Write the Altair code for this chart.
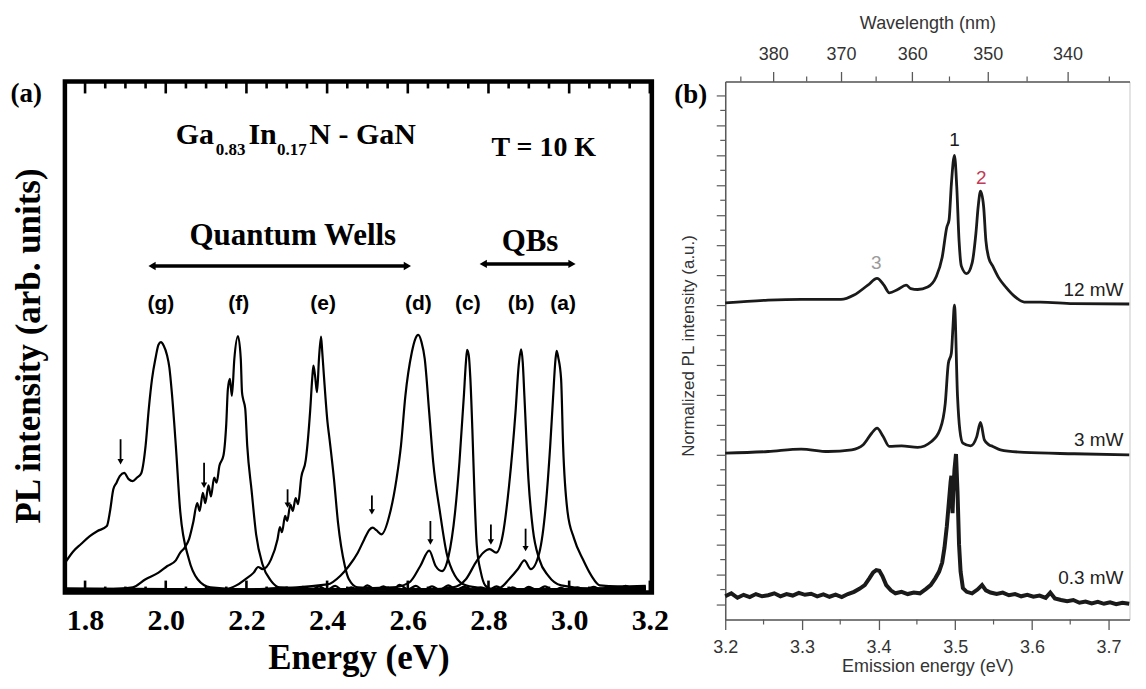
import altair as alt
import pandas as pd

SERIF = "Liberation Serif"
SANS = "Liberation Sans"
GRAY = "#5a5a5a"

# ================= Panel (a) data =================
g_E = [1.752, 1.770, 1.790, 1.811, 1.830, 1.854, 1.862, 1.870, 1.878, 1.886, 1.897, 1.908, 1.918, 1.929, 1.939, 1.950, 1.958, 1.966, 1.975, 1.982, 1.988, 1.995, 2.003, 2.009, 2.015, 2.025, 2.036, 2.057, 2.079, 2.111, 2.20, 3.19]
g_I = [6.0, 8.0, 9.5, 11.0, 12.0, 13.0, 16.0, 20.2, 21.5, 22.8, 23.4, 22.2, 21.8, 22.5, 23.3, 28.7, 36.0, 41.8, 46.0, 48.5, 49.0, 48.3, 46.5, 44.0, 39.2, 28.7, 15.8, 6.6, 2.6, 1.0, 0.6, 0.5]

f_E = [1.752, 1.850, 1.918, 1.950, 1.982, 2.004, 2.025, 2.036, 2.047, 2.058, 2.068, 2.078, 2.084, 2.092, 2.098, 2.106, 2.112, 2.120, 2.126, 2.133, 2.143, 2.150, 2.154, 2.159, 2.164, 2.170, 2.179, 2.186, 2.189, 2.192, 2.197, 2.202, 2.213, 2.224, 2.240, 2.261, 2.283, 2.40, 3.19]
f_I = [0.5, 0.6, 1.0, 2.6, 3.9, 5.2, 6.3, 7.8, 8.8, 10.5, 13.7, 17.5, 16.0, 19.5, 17.5, 21.0, 18.8, 22.5, 21.5, 24.8, 26.8, 33.0, 39.8, 41.8, 38.5, 45.7, 50.2, 45.7, 39.2, 37.8, 36.0, 28.7, 19.8, 11.4, 5.5, 2.3, 1.0, 0.7, 0.6]

e_E = [1.752, 2.000, 2.150, 2.175, 2.197, 2.218, 2.229, 2.240, 2.261, 2.277, 2.283, 2.288, 2.296, 2.301, 2.309, 2.315, 2.322, 2.328, 2.336, 2.347, 2.358, 2.363, 2.366, 2.370, 2.375, 2.380, 2.385, 2.388, 2.392, 2.401, 2.406, 2.417, 2.427, 2.444, 2.454, 2.476, 2.60, 3.19]
e_I = [0.6, 0.5, 0.7, 1.4, 2.6, 3.9, 5.0, 4.6, 6.5, 10.4, 12.8, 11.8, 15.0, 14.0, 17.2, 16.0, 18.5, 17.3, 22.6, 25.9, 35.6, 41.8, 44.4, 42.5, 39.2, 46.0, 50.1, 47.0, 42.5, 33.3, 30.0, 22.2, 13.7, 5.2, 2.6, 1.0, 0.6, 0.7]

d_E = [1.752, 2.200, 2.401, 2.433, 2.454, 2.476, 2.492, 2.505, 2.513, 2.522, 2.535, 2.556, 2.572, 2.583, 2.594, 2.610, 2.618, 2.626, 2.634, 2.642, 2.653, 2.663, 2.680, 2.696, 2.717, 2.744,
       2.78, 2.80, 2.82, 2.84, 2.86, 2.88, 2.90, 2.92, 2.94, 2.96, 2.98, 3.00, 3.02, 3.04, 3.06, 3.08, 3.10, 3.12, 3.14, 3.16, 3.19]
d_I = [0.8, 0.6, 1.6, 3.3, 5.2, 7.8, 10.4, 12.3, 12.7, 12.2, 11.4, 15.6, 22.2, 28.7, 38.5, 47.0, 49.5, 50.4, 49.0, 45.7, 35.3, 25.5, 15.6, 7.8, 3.3, 1.4,
       0.9, 0.5, 1.2, 0.4, 1.0, 0.3, 1.1, 0.5, 1.2, 0.4, 0.9, 0.3, 1.0, 0.5, 1.1, 0.6, 1.2, 0.5, 1.3, 0.7, 1.2]

c_E = [1.752, 2.300, 2.562, 2.604, 2.631, 2.653, 2.669, 2.685, 2.701, 2.717, 2.728, 2.739, 2.744, 2.747, 2.751, 2.755, 2.760, 2.765, 2.771, 2.781, 2.792, 2.808, 2.90, 3.19]
c_I = [0.6, 0.5, 1.0, 2.0, 5.2, 8.2, 5.2, 4.2, 7.1, 15.6, 25.5, 38.5, 45.0, 47.5, 46.5, 42.0, 32.0, 20.0, 9.2, 4.0, 1.4, 0.7, 0.6, 0.8]

b_E = [1.752, 2.300, 2.650, 2.712, 2.744, 2.771, 2.787, 2.803, 2.819, 2.835, 2.851, 2.867, 2.875, 2.881, 2.885, 2.889, 2.899, 2.910, 2.926, 2.948, 2.980, 3.05, 3.19]
b_I = [0.7, 0.5, 0.6, 1.0, 2.6, 6.2, 7.8, 8.5, 7.8, 11.1, 20.9, 35.3, 44.5, 47.6, 45.0, 38.5, 22.2, 12.4, 6.5, 3.3, 1.4, 0.8, 0.9]

a_E = [1.752, 2.200, 2.30, 2.32, 2.34, 2.36, 2.38, 2.40, 2.42, 2.44, 2.46, 2.48, 2.50, 2.52, 2.54, 2.56, 2.58, 2.60, 2.62, 2.64, 2.66, 2.68, 2.70, 2.72, 2.74, 2.76, 2.78,
       2.800, 2.830, 2.851, 2.873, 2.889, 2.905, 2.926, 2.942, 2.953, 2.960, 2.966, 2.969, 2.973, 2.980, 2.985, 2.996, 3.012, 3.034, 3.055, 3.076, 3.12, 3.19]
a_I = [0.5, 0.6, 0.9, 0.3, 1.1, 0.4, 1.2, 0.5, 1.3, 0.4, 1.0, 0.3, 1.4, 0.5, 1.2, 0.3, 1.5, 0.6, 1.3, 0.4, 1.2, 0.5, 1.4, 0.6, 1.1, 0.4, 1.0,
       0.7, 1.0, 2.6, 4.6, 6.3, 4.6, 7.8, 17.0, 28.7, 38.0, 45.5, 47.3, 46.0, 41.8, 28.7, 15.8, 10.6, 6.5, 3.3, 1.4, 1.2, 1.3]

curve_names = ["(g)", "(f)", "(e)", "(d)", "(c)", "(b)", "(a)"]
curve_E = [g_E, f_E, e_E, d_E, c_E, b_E, a_E]
curve_I = [g_I, f_I, e_I, d_I, c_I, b_I, a_I]

lab_E = [1.988, 2.181, 2.390, 2.626, 2.749, 2.881, 2.985]
lab_I = [56.5] * 7

arr_E = [1.888, 2.095, 2.302, 2.511, 2.656, 2.806, 2.892]
arr_top = [30.0, 25.4, 20.2, 19.0, 14.0, 13.3, 12.5]
arr_tip = [24.8, 20.2, 16.3, 15.0, 9.1, 9.1, 7.8]

rng_E1 = [1.966, 2.787]
rng_E2 = [2.599, 3.007]
rng_I = [63.9, 64.3]

ann_text = ["Quantum Wells", "QBs", "T = 10 K"]
ann_E = [2.315, 2.903, 2.937]
ann_I = [69.8, 68.6, 87.0]
ann_fs = [31, 31, 28]

comp_text = ["Ga", "0.83", "In", "0.17", "N - GaN"]
comp_E = [2.025, 2.124, 2.205, 2.276, 2.356]
comp_I = [87.8, 85.6, 87.8, 85.6, 87.8]
comp_fs = [30, 17, 30, 17, 30]

a_major = [1.8, 2.0, 2.2, 2.4, 2.6, 2.8, 3.0, 3.2]
a_minor = [1.85, 1.90, 1.95, 2.05, 2.10, 2.15, 2.25, 2.30, 2.35, 2.45, 2.50, 2.55,
           2.65, 2.70, 2.75, 2.85, 2.90, 2.95, 3.05, 3.10, 3.15]

# ================= Panel (b) data =================
p12_E = [3.200, 3.256, 3.299, 3.351, 3.368, 3.386, 3.398, 3.407, 3.414, 3.425, 3.436, 3.442, 3.451, 3.464, 3.475, 3.483, 3.489, 3.492, 3.495, 3.499, 3.502, 3.505, 3.508, 3.515, 3.522, 3.527, 3.530, 3.533, 3.537, 3.540, 3.544, 3.549, 3.557, 3.566, 3.577, 3.590, 3.611, 3.654, 3.727]
p12_Y = [21.15, 21.33, 21.38, 21.38, 21.67, 22.33, 22.78, 22.33, 21.82, 22.04, 22.33, 22.10, 22.04, 22.20, 22.87, 24.20, 26.20, 26.70, 29.10, 31.00, 28.90, 25.30, 23.60, 23.10, 23.80, 25.80, 27.60, 28.60, 27.60, 25.30, 24.10, 23.60, 22.80, 22.20, 21.60, 21.20, 21.20, 21.10, 21.07]

p3_E = [3.200, 3.256, 3.299, 3.334, 3.365, 3.380, 3.391, 3.398, 3.406, 3.414, 3.430, 3.451, 3.469, 3.480, 3.487, 3.491, 3.495, 3.497, 3.499, 3.503, 3.506, 3.510, 3.520, 3.528, 3.533, 3.538, 3.544, 3.549, 3.559, 3.590, 3.655, 3.727]
p3_Y = [11.11, 11.22, 11.38, 11.22, 11.33, 11.67, 12.44, 12.78, 12.22, 11.56, 11.60, 11.50, 11.89, 12.67, 14.44, 17.10, 17.80, 19.50, 21.00, 14.90, 12.67, 11.78, 11.60, 12.20, 13.16, 12.00, 11.67, 11.56, 11.33, 11.16, 11.07, 11.00]

p03_E = [3.200, 3.208, 3.216, 3.224, 3.232, 3.240, 3.248, 3.256, 3.264, 3.272, 3.280, 3.288, 3.296, 3.304, 3.312, 3.320, 3.328, 3.336, 3.344, 3.352, 3.360, 3.368, 3.375, 3.382, 3.388, 3.393, 3.397, 3.401, 3.405, 3.410, 3.416, 3.422, 3.430, 3.438, 3.446, 3.454, 3.462, 3.468, 3.474, 3.479, 3.483, 3.486, 3.489, 3.492, 3.494, 3.495, 3.4965, 3.4975, 3.499, 3.501, 3.503, 3.505, 3.507, 3.510, 3.515, 3.522, 3.529, 3.535, 3.540, 3.546, 3.554, 3.562, 3.570, 3.578, 3.586, 3.594, 3.602, 3.610, 3.618, 3.624, 3.630, 3.638, 3.646, 3.654, 3.662, 3.670, 3.678, 3.686, 3.694, 3.702, 3.710, 3.718, 3.727]
p03_Y = [1.55, 1.75, 1.45, 1.65, 1.50, 1.70, 1.55, 1.62, 1.75, 1.55, 1.70, 1.60, 1.78, 1.65, 1.72, 1.55, 1.68, 1.52, 1.66, 1.50, 1.70, 1.85, 2.05, 2.30, 2.75, 3.15, 3.30, 3.25, 2.90, 2.30, 1.95, 1.75, 1.85, 1.70, 1.80, 1.75, 2.05, 2.30, 2.75, 3.20, 3.80, 4.80, 6.20, 8.00, 9.20, 9.60, 7.10, 8.50, 10.00, 11.05, 8.50, 5.00, 3.20, 2.10, 1.85, 1.75, 2.00, 2.30, 1.95, 1.80, 1.70, 1.80, 1.62, 1.70, 1.55, 1.65, 1.52, 1.60, 1.45, 1.80, 1.40, 1.30, 1.22, 1.30, 1.12, 1.20, 1.08, 1.18, 1.05, 1.15, 1.02, 1.12, 1.05]

peak_lab = ["1", "2", "3"]
peak_E = [3.499, 3.534, 3.397]
peak_Y = [32.0, 29.5, 23.8]
peak_col = ["#1a1a1a", "#c23a55", "#9a9a9a"]

pow_lab = ["12 mW", "3 mW", "0.3 mW"]
pow_E = [3.7195, 3.7195, 3.7195]
pow_Y = [22.0, 12.0, 2.75]

b_x_major = [3.2, 3.3, 3.4, 3.5, 3.6, 3.7]
b_x_minor = [3.25, 3.35, 3.45, 3.55, 3.65]
wl_major = [380, 370, 360, 350, 340]
wl_minor = [385, 375, 365, 355, 345, 335]
b_y_major = [1, 3, 5, 7, 9, 11, 13, 15, 17, 19, 21, 23, 25, 27, 29, 31, 33, 35]
b_y_minor = [2, 4, 6, 8, 10, 12, 14, 16, 18, 20, 22, 24, 26, 28, 30, 32, 34]
HC = 1239.84

# ================= Panel (a) chart =================
WA, HA = 588, 512
xs_a = alt.Scale(domain=[1.75, 3.205], nice=False, zero=False)
ys_a = alt.Scale(domain=[0, 100], nice=False, zero=False)

rows = []
for n, E, I in zip(curve_names, curve_E, curve_I):
    for e, i in zip(E, I):
        rows.append({"curve": n, "E": e, "I": i})
df_curves = pd.DataFrame(rows)

x_axis_a = alt.Axis(values=a_major, format=".1f", ticks=False, domain=False, grid=False,
                    labelFont=SERIF, labelFontWeight="bold", labelFontSize=30, labelColor="black",
                    labelPadding=13, labelFlush=False, labelOverlap=False,
                    title="Energy (eV)", titleFont=SERIF, titleFontWeight="bold", titleFontSize=35,
                    titleColor="black", titleBaseline="alphabetic", titleY=76)

lines_a = alt.Chart(df_curves).mark_line(color="black", strokeWidth=2.2, interpolate="monotone").encode(
    x=alt.X("E:Q", scale=xs_a, axis=x_axis_a),
    y=alt.Y("I:Q", scale=ys_a, axis=None),
    detail="curve:N",
)

df_arr = pd.DataFrame({"E": arr_E, "top": arr_top, "tip": arr_tip,
                       "head": [t + 0.8 for t in arr_tip]})
arr_rule = alt.Chart(df_arr).mark_rule(color="black", strokeWidth=1.8).encode(
    x=alt.X("E:Q", scale=xs_a, axis=None), y=alt.Y("top:Q", scale=ys_a, axis=None), y2="head:Q")
arr_head = alt.Chart(df_arr).mark_point(shape="triangle-down", filled=True, color="black",
                                         opacity=1, size=38).encode(
    x=alt.X("E:Q", scale=xs_a, axis=None), y=alt.Y("head:Q", scale=ys_a, axis=None))

df_lab = pd.DataFrame({"lab": curve_names, "E": lab_E, "I": lab_I})
labels_a = alt.Chart(df_lab).mark_text(font=SANS, fontWeight="bold", fontSize=21, color="black",
                                       baseline="middle").encode(
    x=alt.X("E:Q", scale=xs_a, axis=None), y=alt.Y("I:Q", scale=ys_a, axis=None), text="lab:N")

df_rng = pd.DataFrame({"E1": rng_E1, "E2": rng_E2, "I": rng_I})
rng_rule = alt.Chart(df_rng).mark_rule(color="black", strokeWidth=3.5).encode(
    x=alt.X("E1:Q", scale=xs_a, axis=None), x2="E2:Q", y=alt.Y("I:Q", scale=ys_a, axis=None))
df_rng_heads = pd.DataFrame({"E": rng_E1 + rng_E2, "I": rng_I + rng_I,
                             "shape": ["triangle-left"] * 2 + ["triangle-right"] * 2})
rng_heads = alt.Chart(df_rng_heads).mark_point(filled=True, color="black", opacity=1, size=70).encode(
    x=alt.X("E:Q", scale=xs_a, axis=None), y=alt.Y("I:Q", scale=ys_a, axis=None),
    shape=alt.Shape("shape:N", scale=None))

df_ann = pd.DataFrame({"t": ann_text, "E": ann_E, "I": ann_I, "fs": ann_fs})
ann_a = alt.Chart(df_ann).mark_text(font=SERIF, fontWeight="bold", color="black",
                                    baseline="middle", align="center").encode(
    x=alt.X("E:Q", scale=xs_a, axis=None), y=alt.Y("I:Q", scale=ys_a, axis=None), text="t:N",
    size=alt.Size("fs:Q", scale=None))

df_comp = pd.DataFrame({"t": comp_text, "E": comp_E, "I": comp_I, "fs": comp_fs})
comp_a = alt.Chart(df_comp).mark_text(font=SERIF, fontWeight="bold", color="black",
                                      baseline="alphabetic", align="left").encode(
    x=alt.X("E:Q", scale=xs_a, axis=None), y=alt.Y("I:Q", scale=ys_a, axis=None), text="t:N",
    size=alt.Size("fs:Q", scale=None))

df_tmaj = pd.DataFrame({"E": a_major})
df_tmin = pd.DataFrame({"E": a_minor})
def tick_rule(df, y0, y1):
    return alt.Chart(df).mark_rule(color="black", strokeWidth=2.6).encode(
        x=alt.X("E:Q", scale=xs_a, axis=None), y=alt.value(y0), y2=alt.value(y1))
ticks_a = [tick_rule(df_tmaj, 0, 12), tick_rule(df_tmin, 0, 7),
           tick_rule(df_tmaj, HA, HA - 12), tick_rule(df_tmin, HA, HA - 6)]

plab_a = alt.Chart(pd.DataFrame({"t": ["(a)"]})).mark_text(
    font=SERIF, fontWeight="bold", fontSize=27, color="black", align="left", baseline="middle").encode(
    text="t:N", x=alt.value(-54.5), y=alt.value(13))

ytitle_a = alt.Chart(pd.DataFrame({"t": ["PL intensity (arb. units)"]})).mark_text(
    font=SERIF, fontWeight="bold", fontSize=35, color="black", align="center", baseline="middle",
    angle=270).encode(text="t:N", x=alt.value(-35.5), y=alt.value(265))

panel_a = alt.layer(lines_a, arr_rule, arr_head, labels_a, rng_rule, rng_heads, ann_a, comp_a,
                    *ticks_a, plab_a, ytitle_a).resolve_axis(x="independent", y="independent").properties(
    width=WA, height=HA, view=alt.ViewBackground(stroke="black", strokeWidth=4.5, fill="white"))

# ================= Panel (b) chart =================
WB, HB = 405, 539
xs_b = alt.Scale(domain=[3.2, 3.2 + WB / 768.0], nice=False, zero=False)
ys_b = alt.Scale(domain=[0, HB / 15.0], nice=False, zero=False)

x_axis_bot = alt.Axis(values=b_x_major, format=".1f", tickSize=10, tickColor=GRAY, tickWidth=1.3,
                      domainColor=GRAY, domainWidth=1.5, grid=False,
                      labelFont=SANS, labelFontSize=18, labelColor="#333", labelPadding=9,
                      labelFlush=False, labelOverlap=False,
                      title="Emission energy (eV)", titleFont=SANS, titleFontSize=18,
                      titleFontWeight="normal", titleColor="#333", titleBaseline="alphabetic", titleY=52)
x_axis_top = alt.Axis(orient="top", values=[HC / w for w in wl_major],
                      labelExpr="format(1239.84 / datum.value, '.0f')",
                      tickSize=10, tickColor=GRAY, tickWidth=1.3, domainColor=GRAY, domainWidth=1.5,
                      grid=False, labelFont=SANS, labelFontSize=18, labelColor="#333", labelPadding=8,
                      labelFlush=False, labelOverlap=False,
                      title="Wavelength (nm)", titleFont=SANS, titleFontSize=18,
                      titleFontWeight="normal", titleColor="#333", titleBaseline="alphabetic",
                      titleY=-53.5)
y_axis_b = alt.Axis(values=b_y_major, tickSize=9, tickColor=GRAY, tickWidth=1.2, labels=False,
                    domainColor=GRAY, domainWidth=1.5, grid=False, title=None)

df12 = pd.DataFrame({"E": p12_E, "Y": p12_Y})
df3 = pd.DataFrame({"E": p3_E, "Y": p3_Y})
df03 = pd.DataFrame({"E": p03_E, "Y": p03_Y})

l12 = alt.Chart(df12).mark_line(color="#1a1a1a", strokeWidth=2.8, interpolate="monotone").encode(
    x=alt.X("E:Q", scale=xs_b, axis=x_axis_bot), y=alt.Y("Y:Q", scale=ys_b, axis=y_axis_b))
l3 = alt.Chart(df3).mark_line(color="#1a1a1a", strokeWidth=2.8, interpolate="monotone").encode(
    x=alt.X("E:Q", scale=xs_b, axis=x_axis_top), y=alt.Y("Y:Q", scale=ys_b, axis=None))
l03 = alt.Chart(df03).mark_line(color="#1a1a1a", strokeWidth=4).encode(
    x=alt.X("E:Q", scale=xs_b, axis=None), y=alt.Y("Y:Q", scale=ys_b, axis=None))

def rule_x(vals, y0, y1):
    return alt.Chart(pd.DataFrame({"E": vals})).mark_rule(color=GRAY, strokeWidth=1.2).encode(
        x=alt.X("E:Q", scale=xs_b, axis=None), y=alt.value(y0), y2=alt.value(y1))

minor_bot = rule_x(b_x_minor, HB, HB + 5)
minor_top = rule_x([HC / w for w in wl_minor], 0, -5)
minor_left = alt.Chart(pd.DataFrame({"Y": b_y_minor})).mark_rule(color=GRAY, strokeWidth=1.2).encode(
    y=alt.Y("Y:Q", scale=ys_b, axis=None), x=alt.value(0), x2=alt.value(-5))

df_peak = pd.DataFrame({"t": peak_lab, "E": peak_E, "Y": peak_Y, "c": peak_col})
peaks_b = alt.Chart(df_peak).mark_text(font=SANS, fontSize=19, baseline="middle").encode(
    x=alt.X("E:Q", scale=xs_b, axis=None), y=alt.Y("Y:Q", scale=ys_b, axis=None), text="t:N",
    color=alt.Color("c:N", scale=None))

df_pow = pd.DataFrame({"t": pow_lab, "E": pow_E, "Y": pow_Y})
pows_b = alt.Chart(df_pow).mark_text(font=SANS, fontSize=19, baseline="middle", align="right",
                                     color="#222").encode(
    x=alt.X("E:Q", scale=xs_b, axis=None), y=alt.Y("Y:Q", scale=ys_b, axis=None), text="t:N")

plab_b = alt.Chart(pd.DataFrame({"t": ["(b)"]})).mark_text(
    font=SERIF, fontWeight="bold", fontSize=27, color="black", align="left", baseline="middle").encode(
    text="t:N", x=alt.value(-51), y=alt.value(14))

ytitle_b = alt.Chart(pd.DataFrame({"t": ["Normalized PL intensity (a.u.)"]})).mark_text(
    font=SANS, fontSize=17, color="#333", align="center", baseline="middle",
    angle=270).encode(text="t:N", x=alt.value(-36), y=alt.value(265))

panel_b = alt.layer(l12, l3, l03, minor_bot, minor_top, minor_left, peaks_b, pows_b, plab_b,
                    ytitle_b).resolve_axis(x="independent", y="independent").properties(
    width=WB, height=HB, view=alt.ViewBackground(stroke="#c8c8c8", strokeWidth=1, fill="white"))

chart = alt.hconcat(panel_a, panel_b, spacing=73.5, bounds="flush").properties(
    padding={"left": 0, "top": 5, "right": 0, "bottom": 0},
    background="white",
)

chart.save("out.html", embed_options={"renderer": "svg", "actions": False})
